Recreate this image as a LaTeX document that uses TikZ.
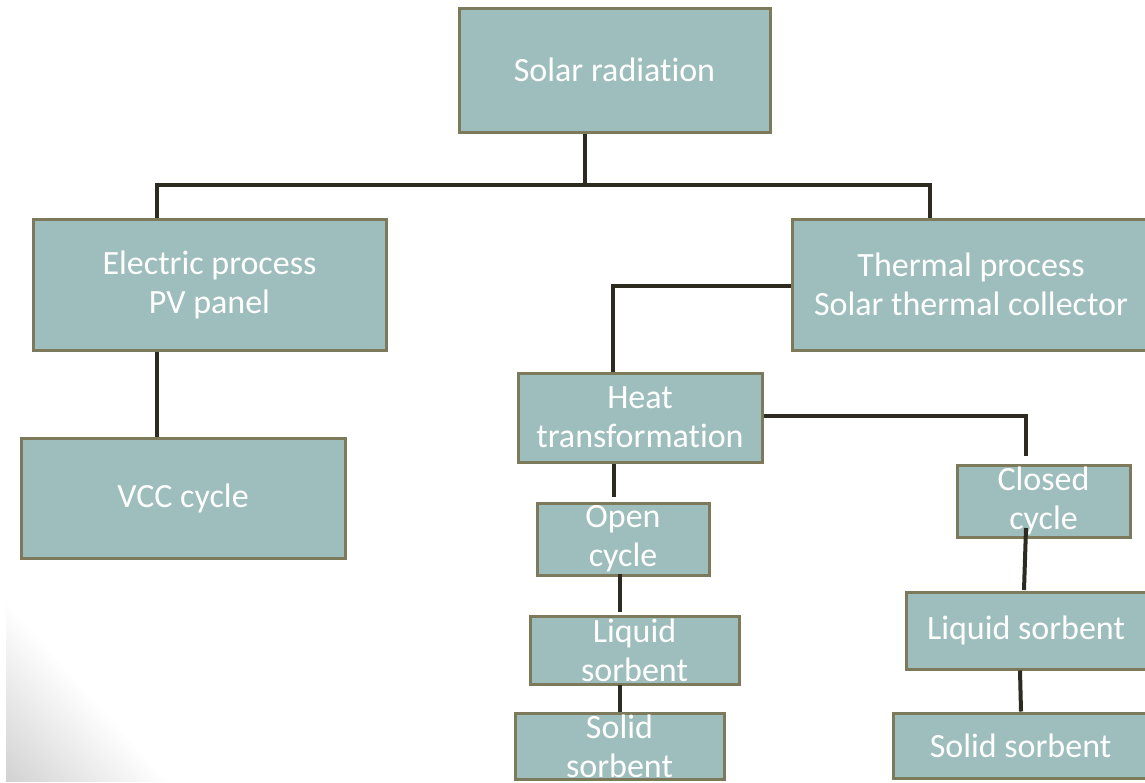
\documentclass[tikz,border=0pt]{standalone}
\usepackage{fontspec}
\setmainfont{Carlito}[Ligatures={CommonOff,RequiredOff,ContextualOff}, Contextuals=AlternateOff]
\definecolor{boxfill}{HTML}{9DBEBC}
\definecolor{boxedge}{HTML}{7C7A5A}
\definecolor{linkcol}{HTML}{2D2A20}
\begin{document}
\begin{tikzpicture}[x=1pt,y=-1pt,
  box/.style={draw=boxedge, line width=3pt, fill=boxfill, text=white,
    align=center, inner sep=0pt, font=\fontsize{34}{39}\selectfont},
  link/.style={draw=linkcol, line width=4pt}]
\useasboundingbox (0,0) rectangle (1145,782);
\fill[white] (0,0) rectangle (1145,782);
% soft grey corner in the lower left
\foreach \d in {4,8,...,180}
  \fill[black, opacity=0.0022] (6,782-\d) -- (6,782) -- (6+\d*0.9,782) -- cycle;

% boxes
\node[box, minimum width=311pt, minimum height=124pt] (sol)    at (614.5,70)   {Solar radiation};
\node[box, minimum width=353pt, minimum height=131pt] (elec)   at (209.5,284.5) {Electric process\\PV panel};
\node[box, minimum width=358pt, minimum height=131pt] (therm)  at (971,284.5)  {Thermal process\\Solar thermal collector};
\node[box, minimum width=324pt, minimum height=120pt] (vcc)    at (183,498)    {VCC cycle};
\node[box, minimum width=244pt, minimum height=89pt]  (heat)   at (640,417.5)  {Heat\\transformation};
\node[box, minimum width=172pt, minimum height=72pt]  (open)   at (623,539)    {Open\\cycle};
\node[box, minimum width=209pt, minimum height=68pt]  (liqM)   at (634.5,650)  {Liquid\\sorbent};
\node[box, minimum width=209pt, minimum height=66pt]  (solM)   at (619.5,746)  {Solid\\sorbent};
\node[box, minimum width=173pt, minimum height=72pt]  (closed) at (1043.5,501) {Closed\\cycle};
\node[box, minimum width=240pt, minimum height=77pt]  (liqR)   at (1026,630.5) {Liquid sorbent};
\node[box, minimum width=255pt, minimum height=65pt]  (solR)   at (1020.5,745.5) {Solid sorbent};

% bend points and free ends of the connectors
\coordinate (bus)   at (585,185);
\coordinate (busL)  at (157,185);
\coordinate (busR)  at (930,185);
\coordinate (tbend) at (613,286);
\coordinate (hdrop) at (614,497);
\coordinate (hbend) at (1026,416);
\coordinate (hend)  at (1026,456);
\coordinate (oend)  at (620,612);
\coordinate (mx)    at (620,0);
\coordinate (cin)   at (1026,528);
\coordinate (cend)  at (1024,590);
\coordinate (rx1)   at (1020,0);
\coordinate (rx2)   at (1021,0);

% connectors
\draw[link] (bus |- sol.south) -- (bus);
\draw[link] (busL |- elec.north) -- (busL) -- (busR) -- (busR |- therm.north);
\draw[link] (busL |- elec.south) -- (busL |- vcc.north);
\draw[link] (tbend -| therm.west) -- (tbend) -- (tbend |- heat.north);
\draw[link] (hdrop |- heat.south) -- (hdrop);
\draw[link] (hbend -| heat.east) -- (hbend) -- (hend);
\draw[link] ([yshift=3pt]oend |- open.south) -- (oend);
\draw[link] ([yshift=1pt]mx |- liqM.south) -- (mx |- solM.north);
\draw[link] (cin) -- (cend);
\draw[link] (rx1 |- liqR.south) -- (rx2 |- solR.north);
\end{tikzpicture}
\end{document}
